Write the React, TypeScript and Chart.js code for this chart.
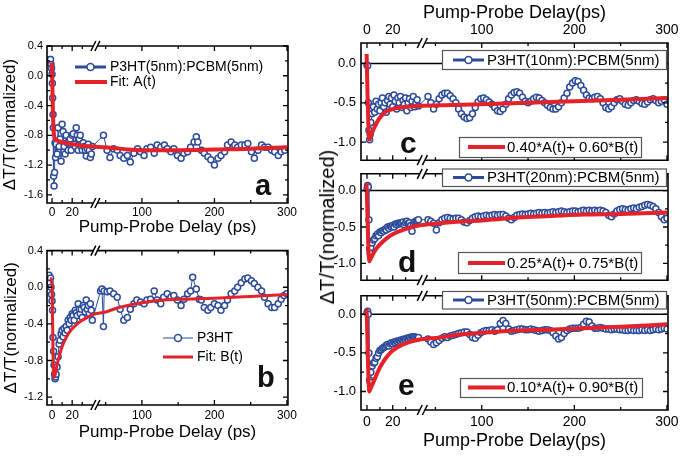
import React, { useEffect, useRef } from "react";
import { Chart, registerables } from "chart.js";

Chart.register(...registerables);

const BLUE = "#2c4b9b";
const RED = "#e4222a";
const FONT = "'Liberation Sans', Arial, Helvetica, sans-serif";

// Broken time axis: 0–40 ps at full scale, a short gap, then compressed scale to 300 ps
const BREAK_T = 40;
const BREAK_GAP = 6;
const COMPRESS = 0.72;
const toU = (t: number) => (t <= BREAK_T ? t : BREAK_T + BREAK_GAP + (t - BREAK_T) * COMPRESS);

const xTickLabels = [0, 20, 100, 200, 300];
const xMinorTicks = [10, 30, 50, 150, 250];
const yTicksA = [0.4, 0.0, -0.4, -0.8, -1.2, -1.6];
const yTicksB = [0.4, 0.0, -0.4, -0.8, -1.2];
const yTicksRight = [0.0, -0.5, -1.0];

const xTitleLeft = "Pump-Probe Delay (ps)";
const xTitleRight = "Pump-Probe Delay(ps)";
const yTitle = "ΔT/T(normalized)";

type Pair = [number, number];

// (a) P3HT(5nm):PCBM(5nm)
const filmA: Pair[] = [
  [-2, 0.22], [-1.5, 0.22], [-1, 0.15], [-0.5, 0.1], [0, 0.02], [0.3, -0.1], [0.6, -0.3], [1, -0.52],
  [1.3, -0.7], [1.6, -1.35], [2, -1.48], [2.5, -1.3], [3, -0.9], [3.5, -1.1],
  [4, -0.92], [5, -1.05], [6, -0.7], [7, -0.95], [8, -0.85], [9, -1.15], [10, -0.65], [11, -0.75],
  [12, -0.95], [13, -1.05], [14, -0.8], [15, -0.9], [16, -1.0], [17, -0.9], [18, -0.85], [19, -1.0],
  [20, -0.8], [21, -0.78], [22, -0.92], [23, -0.95], [24, -0.7], [25, -0.8], [26, -1.0], [27, -0.85],
  [28, -0.8], [29, -0.95], [30, -1.0], [31, -0.9], [32, -0.95], [33, -1.0], [34, -1.08], [35, -0.98],
  [36, -0.92], [37, -1.0], [38, -1.1], [39, -1.05], [40, -0.95],
  [47, -0.8], [52, -1.0], [56, -1.1], [61, -0.98], [66, -1.0], [70, -1.07], [75, -1.11], [80, -1.07],
  [84, -1.16], [89, -1.04], [94, -0.98], [98, -1.02], [103, -1.07], [107, -0.98], [112, -0.96],
  [117, -1.04], [121, -0.93], [126, -0.96], [131, -0.93], [135, -0.98], [140, -1.02], [144, -0.98],
  [149, -1.07], [154, -1.11], [158, -1.04], [163, -1.02], [167, -0.96], [172, -0.89], [175, -0.82],
  [177, -0.89], [182, -1.0], [186, -1.04], [191, -1.09], [195, -1.13], [200, -1.2], [205, -1.11],
  [209, -1.07], [214, -1.02], [218, -0.93], [223, -0.89], [228, -0.93], [232, -0.96], [237, -0.93],
  [242, -0.93], [246, -0.91], [251, -1.02], [255, -1.11], [260, -1.0], [265, -0.93], [269, -0.96],
  [274, -0.96], [279, -1.0], [283, -1.02], [288, -1.07], [292, -1.02], [297, -1.0],
];
const fitA: Pair[] = [
  [-0.5, 0.18], [0, 0.08], [0.5, -0.25], [1, -0.55], [1.5, -0.72], [2, -0.8], [3, -0.85], [5, -0.87],
  [10, -0.89], [20, -0.92], [30, -0.94], [40, -0.95], [60, -0.97], [80, -0.99], [100, -1.0],
  [150, -1.0], [200, -0.99], [250, -0.98], [300, -0.96],
];

// (b) P3HT
const filmB: Pair[] = [
  [-4, 0.12], [-3.5, 0.1], [-3, 0.13], [-2.5, 0.08], [-2, 0.05], [-1.5, 0.1], [-1, 0.0], [-0.5, -0.08],
  [0, -0.15], [0.5, -0.25], [1, -0.55], [1.5, -0.7], [2, -0.85], [2.5, -0.95], [3, -1.0], [3.5, -0.98],
  [4, -0.95], [5, -0.87], [6, -0.76], [7, -0.62], [8, -0.58], [9, -0.51], [10, -0.47], [11, -0.54],
  [12, -0.45], [13, -0.5], [14, -0.43], [15, -0.47], [16, -0.36], [17, -0.4], [18, -0.33], [19, -0.36],
  [20, -0.29], [21, -0.31], [22, -0.36], [23, -0.25], [24, -0.28], [25, -0.31], [26, -0.18], [27, -0.24],
  [28, -0.29], [29, -0.24], [30, -0.33], [31, -0.2], [32, -0.22], [33, -0.27], [34, -0.14], [35, -0.24],
  [36, -0.2], [37, -0.29], [38, -0.18], [39, -0.25], [40, -0.36],
  [43, -0.04], [45, -0.02], [47, -0.43], [48, -0.04], [52, -0.05], [56, -0.04], [61, -0.07], [66, -0.11],
  [70, -0.24], [75, -0.36], [80, -0.33], [84, -0.24], [89, -0.18], [93, -0.14], [98, -0.16], [103, -0.18],
  [107, -0.14], [112, -0.13], [117, -0.04], [121, -0.14], [126, -0.18], [130, -0.11], [135, -0.07],
  [140, -0.11], [144, -0.09], [149, -0.14], [154, -0.2], [158, -0.13], [163, -0.07], [167, -0.04],
  [170, 0.11], [175, -0.02], [179, -0.13], [182, -0.14], [186, -0.22], [191, -0.25], [195, -0.22],
  [200, -0.18], [205, -0.2], [209, -0.25], [214, -0.2], [218, -0.14], [223, -0.07], [228, -0.04],
  [232, 0.0], [237, 0.05], [242, 0.09], [246, 0.1], [251, 0.07], [255, 0.04], [260, 0.0], [265, -0.04],
  [269, -0.11], [274, -0.18], [279, -0.22], [283, -0.22], [288, -0.18], [292, -0.13], [296, -0.09],
  [300, -0.07],
];
const fitB: Pair[] = [
  [-2, 0.1], [-1, 0.09], [0, 0.0], [0.5, -0.35], [1, -0.75], [1.5, -0.97], [2.5, -0.98], [4, -0.9],
  [6, -0.8], [8, -0.72], [10, -0.65], [14, -0.55], [18, -0.48], [25, -0.4], [30, -0.36], [35, -0.33],
  [40, -0.3], [50, -0.27], [65, -0.23], [80, -0.2], [100, -0.17], [130, -0.14], [160, -0.13],
  [200, -0.12], [250, -0.1], [300, -0.08],
];

// (c) P3HT(10nm):PCBM(5nm)
const filmC: Pair[] = [
  [0, -0.02], [0.5, -0.03], [1, -0.5], [1.5, -0.85], [2, -0.97], [2.5, -0.9], [3, -0.75], [4, -0.64],
  [5, -0.55], [6, -0.62], [7, -0.48], [8, -0.58], [9, -0.52], [10, -0.6], [11, -0.5], [12, -0.44],
  [13, -0.55], [14, -0.5], [15, -0.62], [16, -0.47], [17, -0.42], [18, -0.52], [19, -0.44], [20, -0.55],
  [21, -0.4], [22, -0.48], [23, -0.58], [24, -0.44], [25, -0.5], [26, -0.42], [27, -0.56], [28, -0.47],
  [29, -0.52], [30, -0.44], [31, -0.6], [32, -0.5], [33, -0.45], [34, -0.56], [35, -0.48], [36, -0.42],
  [37, -0.55], [38, -0.5], [39, -0.46], [40, -0.54],
  [42, -0.42], [45, -0.5], [48, -0.58], [51, -0.52], [54, -0.45], [57, -0.4], [60, -0.38], [63, -0.38],
  [66, -0.41], [69, -0.45], [72, -0.5], [75, -0.58], [78, -0.64], [81, -0.68], [84, -0.7], [87, -0.69],
  [90, -0.64], [93, -0.56], [96, -0.49], [99, -0.45], [102, -0.44], [105, -0.46], [108, -0.49],
  [111, -0.52], [114, -0.56], [117, -0.6], [120, -0.61], [123, -0.58], [126, -0.52], [129, -0.45],
  [132, -0.4], [135, -0.37], [138, -0.36], [141, -0.38], [144, -0.43], [147, -0.48], [150, -0.5],
  [153, -0.48], [156, -0.45], [159, -0.43], [162, -0.44], [165, -0.47], [168, -0.5], [171, -0.53],
  [174, -0.56], [177, -0.58], [180, -0.58], [183, -0.55], [186, -0.5], [189, -0.44], [192, -0.38],
  [195, -0.3], [198, -0.25], [201, -0.22], [204, -0.23], [207, -0.28], [210, -0.34], [213, -0.4],
  [216, -0.44], [219, -0.45], [222, -0.43], [225, -0.42], [228, -0.45], [231, -0.5], [234, -0.56],
  [237, -0.58], [240, -0.55], [243, -0.5], [246, -0.46], [249, -0.45], [252, -0.48], [255, -0.52],
  [258, -0.53], [261, -0.5], [264, -0.47], [267, -0.46], [270, -0.48], [273, -0.51], [276, -0.52],
  [279, -0.49], [282, -0.46], [285, -0.45], [288, -0.47], [291, -0.5], [294, -0.48], [297, -0.46],
  [300, -0.52],
];
const fitC: Pair[] = [
  [-0.3, 0.12], [0.3, -0.3], [1, -0.75], [1.8, -0.97], [3, -0.92], [5, -0.84], [8, -0.74], [11, -0.67],
  [15, -0.61], [20, -0.58], [25, -0.56], [30, -0.55], [40, -0.54], [60, -0.53], [100, -0.52],
  [150, -0.5], [200, -0.48], [250, -0.46], [300, -0.44],
];

// (d) P3HT(20nm):PCBM(5nm)
const filmD: Pair[] = [
  [0, 0.02], [0.5, 0.07], [1, 0.05], [1.5, -0.4], [2, -0.8], [2.5, -0.86], [3, -0.78], [4, -0.72],
  [5, -0.68], [6, -0.66], [7, -0.62], [8, -0.6], [9, -0.62], [10, -0.57], [11, -0.58], [12, -0.55],
  [13, -0.56], [14, -0.53], [15, -0.54], [16, -0.5], [17, -0.52], [18, -0.49], [19, -0.5], [20, -0.48],
  [21, -0.5], [22, -0.46], [23, -0.47], [24, -0.45], [25, -0.46], [26, -0.44], [27, -0.45], [28, -0.43],
  [29, -0.47], [30, -0.44], [31, -0.42], [32, -0.45], [33, -0.44], [34, -0.48], [35, -0.56], [36, -0.46],
  [37, -0.43], [38, -0.42], [39, -0.41], [40, -0.4],
  [42, -0.4], [45, -0.42], [48, -0.45], [51, -0.54], [54, -0.44], [57, -0.4], [60, -0.38], [63, -0.37],
  [66, -0.38], [69, -0.39], [72, -0.38], [75, -0.38], [78, -0.4], [81, -0.43], [84, -0.44], [87, -0.41],
  [90, -0.38], [93, -0.36], [96, -0.35], [99, -0.36], [102, -0.35], [105, -0.34], [108, -0.35],
  [111, -0.34], [114, -0.33], [117, -0.34], [120, -0.33], [123, -0.33], [126, -0.35], [129, -0.38],
  [132, -0.4], [135, -0.37], [138, -0.34], [141, -0.33], [144, -0.32], [147, -0.33], [150, -0.32],
  [153, -0.31], [156, -0.32], [159, -0.31], [162, -0.3], [165, -0.31], [168, -0.3], [171, -0.31],
  [174, -0.3], [177, -0.29], [180, -0.3], [183, -0.29], [186, -0.28], [189, -0.29], [192, -0.3],
  [195, -0.29], [198, -0.28], [201, -0.28], [204, -0.29], [207, -0.28], [210, -0.27], [213, -0.28],
  [216, -0.27], [219, -0.28], [222, -0.27], [225, -0.28], [228, -0.27], [231, -0.28], [234, -0.3],
  [237, -0.34], [240, -0.36], [243, -0.32], [246, -0.28], [249, -0.26], [252, -0.25], [255, -0.26],
  [258, -0.27], [261, -0.25], [264, -0.24], [267, -0.25], [270, -0.23], [273, -0.22], [276, -0.2],
  [279, -0.19], [282, -0.2], [285, -0.22], [288, -0.25], [291, -0.3], [294, -0.36], [297, -0.4],
  [300, -0.38],
];
const fitD: Pair[] = [
  [-0.3, 0.1], [0.3, -0.3], [1, -0.75], [1.8, -0.97], [3, -0.93], [5, -0.86], [8, -0.78], [10, -0.74],
  [15, -0.66], [20, -0.6], [28, -0.54], [40, -0.48], [55, -0.45], [70, -0.43], [100, -0.41],
  [140, -0.37], [175, -0.35], [210, -0.33], [250, -0.32], [300, -0.3],
];

// (e) P3HT(50nm):PCBM(5nm)
const filmE: Pair[] = [
  [0, 0.02], [0.5, 0.04], [1, 0.0], [1.5, -0.5], [2, -0.85], [2.5, -0.88], [3, -0.75], [4, -0.67],
  [5, -0.63], [6, -0.62], [7, -0.57], [8, -0.55], [9, -0.5], [10, -0.47], [11, -0.46], [12, -0.44],
  [13, -0.43], [14, -0.42], [15, -0.4], [16, -0.39], [17, -0.41], [18, -0.38], [19, -0.37], [20, -0.38],
  [21, -0.36], [22, -0.37], [23, -0.35], [24, -0.36], [25, -0.34], [26, -0.35], [27, -0.33], [28, -0.34],
  [29, -0.32], [30, -0.33], [31, -0.31], [32, -0.32], [33, -0.3], [34, -0.31], [35, -0.29], [36, -0.3],
  [37, -0.29], [38, -0.3], [39, -0.31], [40, -0.3],
  [42, -0.32], [45, -0.36], [48, -0.39], [51, -0.37], [54, -0.34], [57, -0.31], [60, -0.29], [63, -0.3],
  [66, -0.28], [69, -0.27], [72, -0.26], [75, -0.25], [78, -0.24], [81, -0.23], [84, -0.23], [87, -0.26],
  [90, -0.3], [93, -0.31], [96, -0.27], [99, -0.24], [102, -0.22], [105, -0.21], [108, -0.21],
  [111, -0.2], [114, -0.22], [117, -0.2], [120, -0.12], [123, -0.08], [126, -0.12], [129, -0.19],
  [132, -0.22], [135, -0.21], [138, -0.2], [141, -0.19], [144, -0.19], [147, -0.2], [150, -0.2],
  [153, -0.19], [156, -0.2], [159, -0.21], [162, -0.22], [165, -0.21], [168, -0.2], [171, -0.2],
  [174, -0.21], [177, -0.24], [180, -0.28], [183, -0.32], [186, -0.3], [189, -0.25], [192, -0.21],
  [195, -0.19], [198, -0.18], [201, -0.18], [204, -0.18], [207, -0.17], [210, -0.13], [213, -0.09],
  [216, -0.1], [219, -0.15], [222, -0.18], [225, -0.18], [228, -0.17], [231, -0.18], [234, -0.19],
  [237, -0.19], [240, -0.2], [243, -0.19], [246, -0.19], [249, -0.2], [252, -0.2], [255, -0.21],
  [258, -0.21], [261, -0.2], [264, -0.21], [267, -0.21], [270, -0.21], [273, -0.2], [276, -0.21],
  [279, -0.2], [282, -0.21], [285, -0.2], [288, -0.19], [291, -0.2], [294, -0.19], [297, -0.18],
  [300, -0.19],
];
const fitE: Pair[] = [
  [-0.3, 0.07], [0.3, -0.3], [1, -0.75], [1.8, -1.0], [3, -0.95], [5, -0.88], [8, -0.76], [11, -0.66],
  [15, -0.56], [20, -0.47], [28, -0.39], [40, -0.33], [55, -0.3], [70, -0.27], [100, -0.24],
  [140, -0.21], [175, -0.2], [210, -0.18], [250, -0.16], [300, -0.13],
];

type Legend = {
  kind: "data" | "fit";
  text: string;
  x1: number; x2: number; y: number; lw: number; tx: number; size: number;
  box?: { x: number; y: number; w: number; h: number };
};

type Spec = {
  left: number; top: number; width: number; height: number;
  padding: { left: number; right: number; top: number; bottom: number };
  yAxisWidth: number; xAxisHeight: number; xPos: "top" | "bottom" | null;
  xMin: number; xMax: number; yMin: number; yMax: number; yTicks: number[];
  yTickSize: number; yTickPad: number; xTickSize: number; xTickPad: number;
  xTitle?: { text: string; size: number; padTop: number; padBottom: number };
  yTitle?: { text: string; size: number; padTop: number };
  data: Pair[]; fit: Pair[]; fitWidth: number; zeroLine: boolean;
  legends: Legend[];
  letter: { text: string; x: number; y: number; size: number };
};

const panels: Spec[] = [
  {
    left: 0, top: 0, width: 300, height: 240,
    padding: { left: 0, right: 12, top: 46, bottom: 0 },
    yAxisWidth: 47, xAxisHeight: 37, xPos: "bottom",
    xMin: -5, xMax: 234.2, yMin: -1.71, yMax: 0.4, yTicks: yTicksA,
    yTickSize: 11, yTickPad: 4, xTickSize: 12, xTickPad: 2,
    xTitle: { text: xTitleLeft, size: 17, padTop: 0, padBottom: 2 },
    yTitle: { text: yTitle, size: 17, padTop: 0 },
    data: filmA, fit: fitA, fitWidth: 4, zeroLine: false,
    legends: [
      { kind: "data", text: "P3HT(5nm):PCBM(5nm)", x1: 75, x2: 106, y: 67, lw: 3, tx: 110, size: 14 },
      { kind: "fit", text: "Fit: A(t)", x1: 75, x2: 107, y: 82, lw: 4, tx: 110, size: 14 },
    ],
    letter: { text: "a", x: 255, y: 195, size: 29 },
  },
  {
    left: 0, top: 240, width: 300, height: 219,
    padding: { left: 0, right: 12, top: 9, bottom: 14 },
    yAxisWidth: 47, xAxisHeight: 40, xPos: "bottom",
    xMin: -5, xMax: 234.2, yMin: -1.286, yMax: 0.4, yTicks: yTicksB,
    yTickSize: 11, yTickPad: 4, xTickSize: 12, xTickPad: 3,
    xTitle: { text: xTitleLeft, size: 17, padTop: 0, padBottom: 2 },
    yTitle: { text: yTitle, size: 17, padTop: 1 },
    data: filmB, fit: fitB, fitWidth: 3, zeroLine: false,
    legends: [
      { kind: "data", text: "P3HT", x1: 163, x2: 193, y: 338, lw: 1, tx: 197, size: 14 },
      { kind: "fit", text: "Fit: B(t)", x1: 163, x2: 193, y: 357, lw: 3, tx: 197, size: 14 },
    ],
    letter: { text: "b", x: 257, y: 387, size: 29 },
  },
  {
    left: 318, top: 0, width: 367, height: 173,
    padding: { left: 0, right: 17, top: 0, bottom: 8 },
    yAxisWidth: 43, xAxisHeight: 43, xPos: "top",
    xMin: -4.66, xMax: 234.0, yMin: -1.23, yMax: 0.26, yTicks: yTicksRight,
    yTickSize: 13, yTickPad: 5, xTickSize: 14, xTickPad: 4.6,
    xTitle: { text: xTitleRight, size: 18, padTop: 2.2, padBottom: 0 },
    data: filmC, fit: fitC, fitWidth: 4, zeroLine: true,
    legends: [
      { kind: "data", text: "P3HT(10nm):PCBM(5nm)", x1: 453, x2: 484, y: 60, lw: 3, tx: 487, size: 15,
        box: { x: 442, y: 50, w: 224, h: 19 } },
      { kind: "fit", text: "0.40*A(t)+ 0.60*B(t)", x1: 468, x2: 505, y: 147, lw: 4, tx: 507, size: 15,
        box: { x: 459, y: 137, w: 182, h: 20 } },
    ],
    letter: { text: "c", x: 400, y: 153, size: 30 },
  },
  {
    left: 318, top: 161, width: 367, height: 132,
    padding: { left: 0, right: 17, top: 6, bottom: 6 },
    yAxisWidth: 43, xAxisHeight: 0, xPos: null,
    xMin: -4.66, xMax: 234.0, yMin: -1.23, yMax: 0.23, yTicks: yTicksRight,
    yTickSize: 13, yTickPad: 5, xTickSize: 14, xTickPad: 4,
    data: filmD, fit: fitD, fitWidth: 4, zeroLine: true,
    legends: [
      { kind: "data", text: "P3HT(20nm):PCBM(5nm)", x1: 453, x2: 484, y: 177.5, lw: 3, tx: 487, size: 15,
        box: { x: 442, y: 168.5, w: 224, h: 17.5 } },
      { kind: "fit", text: "0.25*A(t)+ 0.75*B(t)", x1: 468, x2: 505, y: 263, lw: 4, tx: 507, size: 15,
        box: { x: 458, y: 252, w: 183, h: 21 } },
    ],
    letter: { text: "d", x: 398, y: 272, size: 30 },
  },
  {
    left: 318, top: 283, width: 367, height: 176,
    padding: { left: 0, right: 17, top: 6, bottom: 0 },
    yAxisWidth: 43, xAxisHeight: 49, xPos: "bottom",
    xMin: -4.66, xMax: 234.0, yMin: -1.24, yMax: 0.24, yTicks: yTicksRight,
    yTickSize: 13, yTickPad: 5, xTickSize: 14, xTickPad: 3.6,
    xTitle: { text: xTitleRight, size: 18, padTop: 0, padBottom: 7.2 },
    data: filmE, fit: fitE, fitWidth: 4, zeroLine: true,
    legends: [
      { kind: "data", text: "P3HT(50nm):PCBM(5nm)", x1: 453, x2: 484, y: 300, lw: 3, tx: 487, size: 15,
        box: { x: 442, y: 291, w: 224, h: 17.5 } },
      { kind: "fit", text: "0.10*A(t)+ 0.90*B(t)", x1: 468, x2: 505, y: 387.5, lw: 4, tx: 507, size: 15,
        box: { x: 460, y: 378, w: 182, h: 19 } },
    ],
    letter: { text: "e", x: 398, y: 395, size: 30 },
  },
];

function makeDecor(s: Spec) {
  return {
    id: "decor",
    beforeDatasetsDraw(chart: any) {
      if (!s.zeroLine) return;
      const { ctx, chartArea: a, scales } = chart;
      const y0 = scales.y.getPixelForValue(0);
      ctx.save();
      ctx.strokeStyle = "#000";
      ctx.lineWidth = 1.5;
      ctx.beginPath();
      ctx.moveTo(a.left, y0);
      ctx.lineTo(a.right, y0);
      ctx.stroke();
      ctx.restore();
    },
    afterDatasetsDraw(chart: any) {
      const { ctx, chartArea: a, scales } = chart;
      const xs = scales.x;
      const ys = scales.y;
      const gx1 = xs.getPixelForValue(BREAK_T + 1);
      const gx2 = xs.getPixelForValue(BREAK_T + BREAK_GAP - 1);
      ctx.save();
      ctx.strokeStyle = "#000";
      ctx.lineWidth = 1.6;
      ctx.beginPath();
      ctx.moveTo(a.left, a.top);
      ctx.lineTo(a.left, a.bottom);
      ctx.moveTo(a.right, a.top);
      ctx.lineTo(a.right, a.bottom);
      for (const y of [a.top, a.bottom]) {
        ctx.moveTo(a.left - 0.8, y);
        ctx.lineTo(gx1, y);
        ctx.moveTo(gx2, y);
        ctx.lineTo(a.right + 0.8, y);
      }
      ctx.stroke();

      ctx.lineWidth = 1.3;
      ctx.beginPath();
      const xt = (t: number, len: number) => {
        const px = xs.getPixelForValue(toU(t));
        ctx.moveTo(px, a.top);
        ctx.lineTo(px, a.top + len);
        ctx.moveTo(px, a.bottom);
        ctx.lineTo(px, a.bottom - len);
      };
      xTickLabels.forEach((t) => xt(t, 5));
      xMinorTicks.forEach((t) => xt(t, 3));
      const yt = (v: number, len: number) => {
        const py = ys.getPixelForValue(v);
        ctx.moveTo(a.left, py);
        ctx.lineTo(a.left + len, py);
        ctx.moveTo(a.right, py);
        ctx.lineTo(a.right - len, py);
      };
      s.yTicks.forEach((v) => yt(v, 5));
      for (let i = 0; i < s.yTicks.length - 1; i++) yt((s.yTicks[i] + s.yTicks[i + 1]) / 2, 3);
      ctx.stroke();

      ctx.lineWidth = 1.5;
      ctx.beginPath();
      for (const y of [a.top, a.bottom]) {
        for (const gx of [gx1, gx2]) {
          ctx.moveTo(gx - 2.5, y + 5);
          ctx.lineTo(gx + 2.5, y - 5);
        }
      }
      ctx.stroke();

      const ox = s.left;
      const oy = s.top;
      for (const L of s.legends) {
        if (L.box) {
          ctx.fillStyle = "#fff";
          ctx.fillRect(L.box.x - ox, L.box.y - oy, L.box.w, L.box.h);
          ctx.strokeStyle = "#555";
          ctx.lineWidth = 1.2;
          ctx.strokeRect(L.box.x - ox + 0.5, L.box.y - oy + 0.5, L.box.w, L.box.h);
        }
        ctx.strokeStyle = L.kind === "fit" ? RED : BLUE;
        ctx.lineWidth = L.lw;
        ctx.beginPath();
        ctx.moveTo(L.x1 - ox, L.y - oy);
        ctx.lineTo(L.x2 - ox, L.y - oy);
        ctx.stroke();
        if (L.kind === "data") {
          ctx.beginPath();
          ctx.arc((L.x1 + L.x2) / 2 - ox, L.y - oy, 3.5, 0, Math.PI * 2);
          ctx.fillStyle = "#fff";
          ctx.fill();
          ctx.lineWidth = 1.6;
          ctx.strokeStyle = BLUE;
          ctx.stroke();
        }
        ctx.fillStyle = "#000";
        ctx.font = `${L.size}px ${FONT}`;
        ctx.textAlign = "left";
        ctx.textBaseline = "middle";
        ctx.fillText(L.text, L.tx - ox, L.y - oy + 0.5);
      }

      ctx.fillStyle = "#111";
      ctx.font = `bold ${s.letter.size}px ${FONT}`;
      ctx.textAlign = "left";
      ctx.textBaseline = "alphabetic";
      ctx.fillText(s.letter.text, s.letter.x - ox, s.letter.y - oy);
      ctx.restore();
    },
  };
}

function buildConfig(s: Spec): any {
  return {
    type: "scatter",
    data: {
      datasets: [
        {
          label: "fit",
          data: s.fit.map(([t, v]) => ({ x: toU(t), y: v })),
          showLine: true,
          borderColor: RED,
          borderWidth: s.fitWidth,
          pointRadius: 0,
          cubicInterpolationMode: "monotone",
          order: 0,
        },
        {
          label: "data",
          data: s.data.map(([t, v]) => ({ x: toU(t), y: v })),
          showLine: true,
          borderColor: BLUE,
          borderWidth: 1,
          pointRadius: 3,
          pointBorderWidth: 1.5,
          pointBackgroundColor: "#fff",
          pointBorderColor: BLUE,
          order: 1,
        },
      ],
    },
    options: {
      animation: false,
      responsive: false,
      devicePixelRatio: 1,
      events: [],
      layout: { padding: s.padding },
      plugins: { legend: { display: false }, tooltip: { enabled: false } },
      scales: {
        x: {
          type: "linear",
          position: s.xPos ?? "bottom",
          display: s.xPos != null,
          min: s.xMin,
          max: s.xMax,
          grid: { display: false, drawTicks: false },
          border: { display: false },
          afterBuildTicks: (sc: any) => {
            sc.ticks = xTickLabels.map((t) => ({ value: toU(t) }));
          },
          afterFit: (sc: any) => {
            sc.height = s.xAxisHeight;
          },
          ticks: {
            autoSkip: false,
            maxRotation: 0,
            padding: s.xTickPad,
            color: "#000",
            font: { size: s.xTickSize, family: FONT },
            callback: (_v: any, i: number) => String(xTickLabels[i]),
          },
          title: s.xTitle
            ? {
                display: true,
                text: s.xTitle.text,
                color: "#000",
                font: { size: s.xTitle.size, family: FONT },
                padding: { top: s.xTitle.padTop, bottom: s.xTitle.padBottom },
              }
            : { display: false },
        },
        y: {
          type: "linear",
          position: "left",
          min: s.yMin,
          max: s.yMax,
          grid: { display: false, drawTicks: false },
          border: { display: false },
          afterBuildTicks: (sc: any) => {
            sc.ticks = s.yTicks.map((v) => ({ value: v }));
          },
          afterFit: (sc: any) => {
            sc.width = s.yAxisWidth;
          },
          ticks: {
            padding: s.yTickPad,
            color: "#000",
            font: { size: s.yTickSize, family: FONT },
            callback: (v: any) => Number(v).toFixed(1),
          },
          title: s.yTitle
            ? {
                display: true,
                text: s.yTitle.text,
                color: "#000",
                font: { size: s.yTitle.size, family: FONT },
                padding: { top: s.yTitle.padTop, bottom: 0 },
              }
            : { display: false },
        },
      },
    },
    plugins: [makeDecor(s)],
  };
}

function Panel({ spec }: { spec: Spec }) {
  const ref = useRef<HTMLCanvasElement>(null);
  useEffect(() => {
    const chart = new Chart(ref.current as HTMLCanvasElement, buildConfig(spec));
    return () => chart.destroy();
  }, [spec]);
  return (
    <canvas
      ref={ref}
      width={spec.width}
      height={spec.height}
      style={{ position: "absolute", left: spec.left, top: spec.top, width: spec.width, height: spec.height }}
    />
  );
}

export default function App() {
  return (
    <div style={{ position: "fixed", left: 0, top: 0, width: 685, height: 459, background: "#fff", overflow: "hidden" }}>
      {panels.map((p, i) => (
        <Panel key={i} spec={p} />
      ))}
      <div
        style={{
          position: "absolute",
          left: 327,
          top: 227,
          transform: "translate(-50%, -50%) rotate(-90deg)",
          whiteSpace: "nowrap",
          font: `20px ${FONT}`,
          lineHeight: "1",
          color: "#000",
        }}
      >
        {yTitle}
      </div>
    </div>
  );
}
